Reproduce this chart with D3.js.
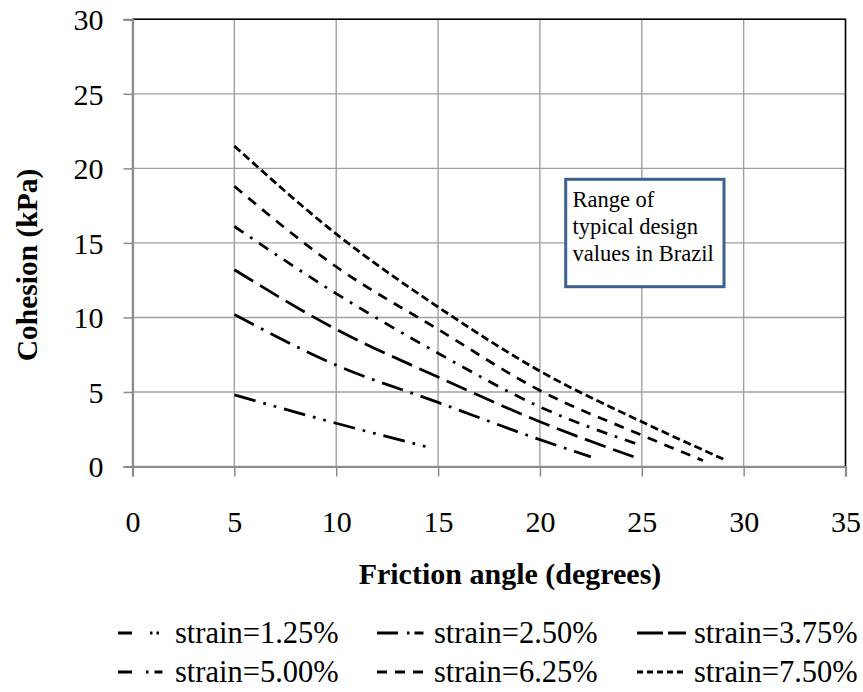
<!DOCTYPE html>
<html>
<head>
<meta charset="utf-8">
<script src="https://cdn.jsdelivr.net/npm/d3@7"></script>
<style>
  html, body { margin: 0; padding: 0; background: #fff; }
  svg { display: block; }
  text { font-family: "Liberation Serif", "Times New Roman", serif; fill: #000; }
</style>
</head>
<body>
<svg id="chart" width="863" height="692"></svg>
<script>
// Cohesion vs friction angle curves, one per axial strain level
const strainNames = ["strain=1.25%", "strain=2.50%", "strain=3.75%", "strain=5.00%", "strain=6.25%", "strain=7.50%"];

const phi125 = [5, 10, 14.5];
const coh125 = [4.8, 2.9, 1.3];
const phi250 = [5, 10, 15, 20, 22.5];
const coh250 = [10.2, 6.8, 4.3, 1.8, 0.65];
const phi375 = [5, 10, 15, 20, 24.6];
const coh375 = [13.2, 9.2, 6.0, 3.0, 0.65];
const phi500 = [5, 10, 15, 20, 25];
const coh500 = [16.1, 11.6, 7.6, 4.0, 1.4];
const phi625 = [5, 10, 15, 20, 25, 28];
const coh625 = [18.8, 13.4, 9.2, 5.1, 2.1, 0.4];
const phi750 = [5, 10, 15, 20, 25, 29];
const coh750 = [21.5, 15.6, 10.7, 6.4, 3.0, 0.5];

const xTicks = [0, 5, 10, 15, 20, 25, 30, 35];
const yTicks = [0, 5, 10, 15, 20, 25, 30];

const noteLines = ["Range of", "typical design", "values in Brazil"];

// line dash patterns for each strain level (plot lines)
const dashes = [
  "22,8,2.75,8,2.75,8",
  "22,8,2.75,8",
  "22,8",
  "11,8,2.75,8",
  "10,8",
  "8,4"
];
// shorter samples used by the legend keys
const legendDashes = [
  "14,18,2.5,4,2.5,20",
  "21,9,2.5,5,9,20",
  "26,5,21,20",
  "14,14,2.5,6,8,20",
  "10,8,10,8,10,20",
  "6,4,6,4,6,4,6,4,6,20"
];

const series = [
  [phi125, coh125], [phi250, coh250], [phi375, coh375],
  [phi500, coh500], [phi625, coh625], [phi750, coh750]
].map(([p, c], i) => ({
  name: strainNames[i], dash: dashes[i], legDash: legendDashes[i],
  pts: p.map((v, j) => [v, c[j]])
}));

const svg = d3.select("#chart");
const x = d3.scaleLinear().domain([0, 35]).range([132.5, 845.5]);
const y = d3.scaleLinear().domain([0, 30]).range([466.5, 19.3]);

// grid
const grid = svg.append("g");
grid.selectAll("line.v").data(xTicks).join("line")
  .attr("x1", d => x(d)).attr("x2", d => x(d))
  .attr("y1", y(0)).attr("y2", y(30))
  .attr("stroke", "#a0a0a0").attr("stroke-width", 1.4);
grid.selectAll("line.h").data(yTicks).join("line")
  .attr("x1", x(0)).attr("x2", x(35))
  .attr("y1", d => y(d)).attr("y2", d => y(d))
  .attr("stroke", "#a0a0a0").attr("stroke-width", 1.4);

// plot area border (top/right)
svg.append("path")
  .attr("d", `M${x(0)},${y(30)}H${x(35)}V${y(0)}`)
  .attr("fill", "none").attr("stroke", "#000").attr("stroke-width", 1.5);

// axes
const xAxis = svg.append("g").attr("transform", `translate(0,${y(0)})`)
  .call(d3.axisBottom(x).tickValues(xTicks).tickSize(10).tickPadding(34));
const yAxis = svg.append("g").attr("transform", `translate(${x(0)},0)`)
  .call(d3.axisLeft(y).tickValues(yTicks).tickSize(9).tickPadding(20));
[xAxis, yAxis].forEach(a => {
  a.attr("font-family", null);
  a.select(".domain").attr("stroke", "#8c8c8c").attr("stroke-width", 2.2);
  a.selectAll(".tick line").attr("stroke", "#8c8c8c").attr("stroke-width", 1.5);
  a.selectAll(".tick text").style("font-family", "'Liberation Serif', 'Times New Roman', serif")
    .attr("font-size", 30).attr("fill", "#000");
});
yAxis.selectAll(".tick text").attr("dy", "0.34em");

// axis titles
svg.append("text").attr("x", 510).attr("y", 584)
  .attr("text-anchor", "middle").attr("font-size", 30).attr("font-weight", "bold")
  .text("Friction angle (degrees)");
svg.append("text").attr("transform", "translate(37,265) rotate(-90)")
  .attr("text-anchor", "middle").attr("font-size", 29.5).attr("font-weight", "bold")
  .text("Cohesion (kPa)");

// curves
const line = d3.line().x(d => x(d[0])).y(d => y(d[1])).curve(d3.curveMonotoneX);
svg.append("g").selectAll("path").data(series).join("path")
  .attr("d", d => line(d.pts))
  .attr("fill", "none").attr("stroke", "#000").attr("stroke-width", 2.75)
  .attr("stroke-dasharray", d => d.dash);

// annotation box
const box = svg.append("g");
box.append("rect").attr("x", 565.7).attr("y", 179.3).attr("width", 158.3).attr("height", 107.4)
  .attr("fill", "#fff").attr("stroke", "#3d6190").attr("stroke-width", 3);
box.selectAll("text").data(noteLines).join("text")
  .attr("x", 572.5).attr("y", (d, i) => 206.5 + i * 27)
  .attr("font-size", 22.5).text(d => d);

// legend
const legCols = [175, 434, 694];
const legRows = [643, 682];
const leg = svg.append("g").selectAll("g").data(series).join("g")
  .attr("transform", (d, i) => `translate(${legCols[i % 3]},${legRows[Math.floor(i / 3)]})`);
leg.append("line").attr("x1", -57).attr("x2", -8).attr("y1", -10).attr("y2", -10)
  .attr("stroke", "#000").attr("stroke-width", 3).attr("stroke-dasharray", d => d.legDash);
leg.append("text").attr("x", 0).attr("y", 0).attr("font-size", 30.5).text(d => d.name);
</script>
</body>
</html>
